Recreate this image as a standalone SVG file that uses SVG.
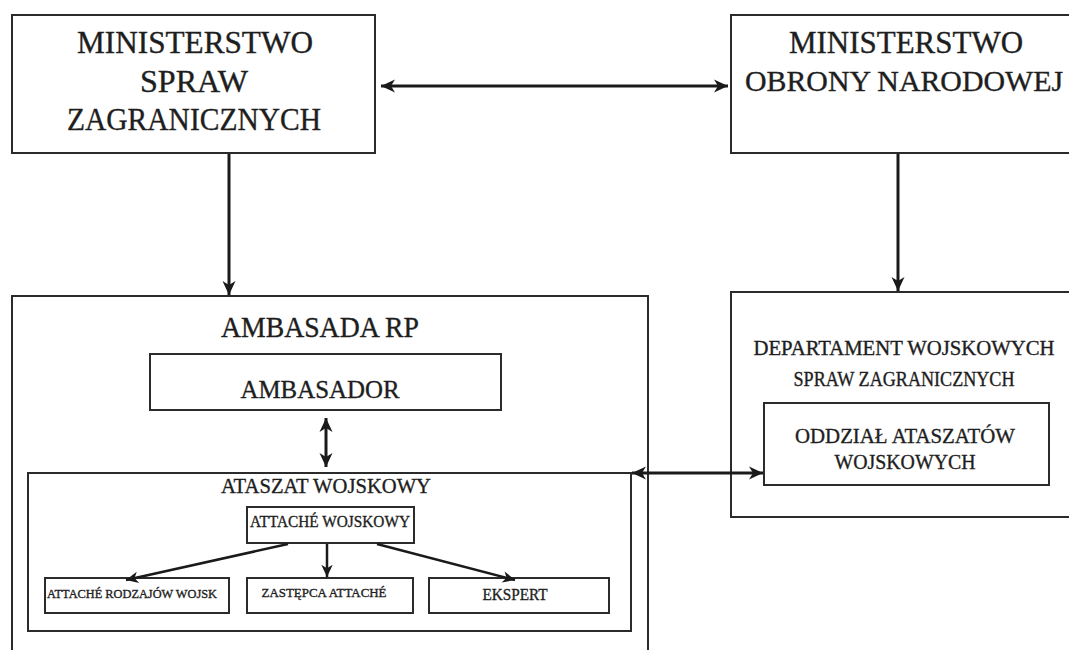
<svg xmlns="http://www.w3.org/2000/svg" width="1069" height="650" viewBox="0 0 1069 650">
<style>
.box{fill:#fff;stroke:#2b2b2b;stroke-width:2}
.t{font-family:"Liberation Serif","DejaVu Serif",serif;fill:#1e1e1e;stroke:#1e1e1e;stroke-width:0.35;text-anchor:middle}
.c{stroke:#1a1a1a;stroke-width:3;fill:none}
.cs{stroke:#1a1a1a;stroke-width:2.5;fill:none}
</style>
<defs>
<marker id="ah" markerUnits="userSpaceOnUse" markerWidth="16" markerHeight="16" viewBox="0 0 16 16" refX="15" refY="8" orient="auto-start-reverse">
<path d="M1,1.5 L15,8 L1,14.5 L5,8 Z" fill="#1a1a1a"/>
</marker>
<marker id="ahs" markerUnits="userSpaceOnUse" markerWidth="14" markerHeight="14" viewBox="0 0 16 16" refX="15" refY="8" orient="auto-start-reverse">
<path d="M1,1.5 L15,8 L1,14.5 L5,8 Z" fill="#1a1a1a"/>
</marker>
</defs>
<rect width="1069" height="650" fill="#fff"/>

<g id="msz">
<rect class="box" x="12" y="15" width="363" height="138"/>
<text class="t" x="195" y="53" font-size="31" textLength="236" lengthAdjust="spacingAndGlyphs">MINISTERSTWO</text>
<text class="t" x="194" y="92" font-size="31" textLength="108" lengthAdjust="spacingAndGlyphs">SPRAW</text>
<text class="t" x="194" y="130" font-size="31" textLength="254" lengthAdjust="spacingAndGlyphs">ZAGRANICZNYCH</text>
</g>

<g id="mon">
<rect class="box" x="731" y="15" width="345" height="138"/>
<text class="t" x="906" y="53" font-size="31" textLength="234" lengthAdjust="spacingAndGlyphs">MINISTERSTWO</text>
<text class="t" x="904" y="91" font-size="29.5" textLength="318" lengthAdjust="spacingAndGlyphs">OBRONY NARODOWEJ</text>
</g>

<g id="ambasada">
<rect class="box" x="12" y="296" width="636" height="370"/>
<text class="t" x="320" y="337" font-size="29" textLength="198" lengthAdjust="spacingAndGlyphs">AMBASADA RP</text>
</g>

<g id="ambasador">
<rect class="box" x="150" y="354" width="351" height="56"/>
<text class="t" x="320" y="398" font-size="26" textLength="159" lengthAdjust="spacingAndGlyphs">AMBASADOR</text>
</g>

<g id="ataszat">
<rect class="box" x="28" y="473" width="603" height="158"/>
<text class="t" x="326" y="493" font-size="22" textLength="210" lengthAdjust="spacingAndGlyphs">ATASZAT WOJSKOWY</text>
</g>

<g id="attache">
<rect class="box" x="247" y="507" width="167" height="36"/>
<text class="t" x="330" y="527" font-size="17" textLength="160" lengthAdjust="spacingAndGlyphs">ATTACHÉ WOJSKOWY</text>
</g>

<g id="rodzajow">
<rect class="box" x="45" y="578" width="184" height="35"/>
<text class="t" x="132" y="598" font-size="13" textLength="170" lengthAdjust="spacingAndGlyphs">ATTACHÉ RODZAJÓW WOJSK</text>
</g>

<g id="zastepca">
<rect class="box" x="247" y="578" width="166" height="35"/>
<text class="t" x="324" y="597" font-size="13" textLength="125" lengthAdjust="spacingAndGlyphs">ZASTĘPCA ATTACHÉ</text>
</g>

<g id="ekspert">
<rect class="box" x="429" y="578" width="180" height="35"/>
<text class="t" x="515" y="600" font-size="16" textLength="65" lengthAdjust="spacingAndGlyphs">EKSPERT</text>
</g>

<g id="departament">
<rect class="box" x="731" y="292" width="345" height="225"/>
<text class="t" x="904" y="355" font-size="21" textLength="301" lengthAdjust="spacingAndGlyphs">DEPARTAMENT WOJSKOWYCH</text>
<text class="t" x="904" y="386" font-size="21" textLength="221" lengthAdjust="spacingAndGlyphs">SPRAW ZAGRANICZNYCH</text>
</g>

<g id="oddzial">
<rect class="box" x="764" y="403" width="285" height="82"/>
<text class="t" x="905" y="443" font-size="22" textLength="220" lengthAdjust="spacingAndGlyphs">ODDZIAŁ ATASZATÓW</text>
<text class="t" x="905" y="469" font-size="22" textLength="141" lengthAdjust="spacingAndGlyphs">WOJSKOWYCH</text>
</g>

<g id="connectors">
<line class="c" x1="381" y1="86" x2="728" y2="86" marker-start="url(#ah)" marker-end="url(#ah)"/>
<line class="c" x1="229" y1="154" x2="229" y2="295" marker-end="url(#ah)"/>
<line class="c" x1="898" y1="154" x2="898" y2="291" marker-end="url(#ah)"/>
<line class="c" x1="326" y1="418" x2="326" y2="467" marker-start="url(#ah)" marker-end="url(#ah)"/>
<line class="c" x1="632" y1="473" x2="763" y2="473" marker-start="url(#ah)" marker-end="url(#ah)"/>
<line class="cs" x1="288" y1="544" x2="126" y2="580" marker-end="url(#ahs)"/>
<line class="cs" x1="327" y1="544" x2="327" y2="577" marker-end="url(#ahs)"/>
<line class="cs" x1="377" y1="544" x2="515" y2="580" marker-end="url(#ahs)"/>
</g>
</svg>
